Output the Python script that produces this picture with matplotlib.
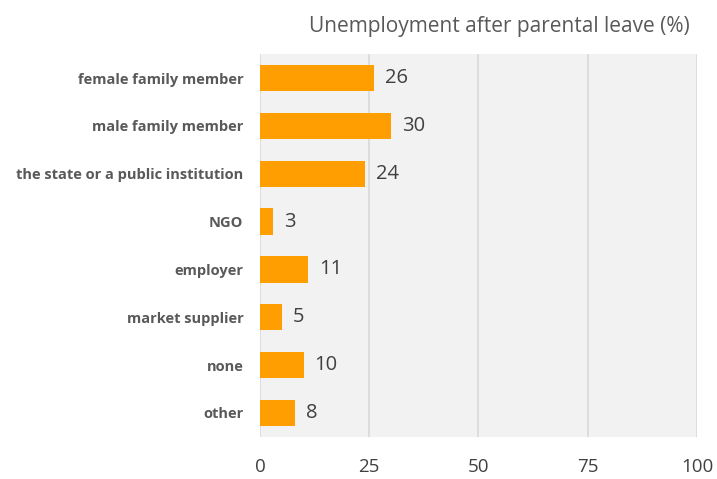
import matplotlib
matplotlib.use("Agg")
import matplotlib.pyplot as plt

# data
categories = ["female family member", "male family member",
              "the state or a public institution", "NGO", "employer",
              "market supplier", "none", "other"]
values = [26, 30, 24, 3, 11, 5, 10, 8]
xticks = [0, 25, 50, 75, 100]
title = "Unemployment after parental leave (%)"

plt.rcParams['font.family'] = ['Open Sans', 'DejaVu Sans']

fig = plt.figure(figsize=(7.17, 4.79), dpi=100)
ax = fig.add_axes([0.3626, 0.088, 0.6094, 0.799])
ax.set_facecolor("#F2F2F2")

ypos = list(range(len(categories)))
ax.barh(ypos, values, height=0.55, color="#FF9E00", zorder=3)
for y, v in zip(ypos, values):
    ax.text(v + 2.5, y, str(v), va="center", ha="left", fontsize=14.5,
            color="#404040", zorder=4)

ax.set_yticks(ypos)
ax.set_yticklabels(categories, fontsize=10.5, fontweight="bold", color="#595959")
ax.set_ylim(len(categories) - 0.5, -0.5)
ax.set_xlim(0, 100)
ax.set_xticks(xticks)
ax.set_xticklabels([str(t) for t in xticks], fontsize=13.5, color="#404040")
ax.tick_params(axis="x", length=0, pad=15)
ax.tick_params(axis="y", length=0, pad=12)
ax.xaxis.grid(True, color="#D9D9D9", linewidth=1.2, zorder=1)
ax.set_axisbelow(True)
for s in ax.spines.values():
    s.set_visible(False)

fig.text(0.962, 0.945, title, ha="right", va="center", fontsize=15,
         color="#595959")

fig.savefig("out.png", dpi=100)
